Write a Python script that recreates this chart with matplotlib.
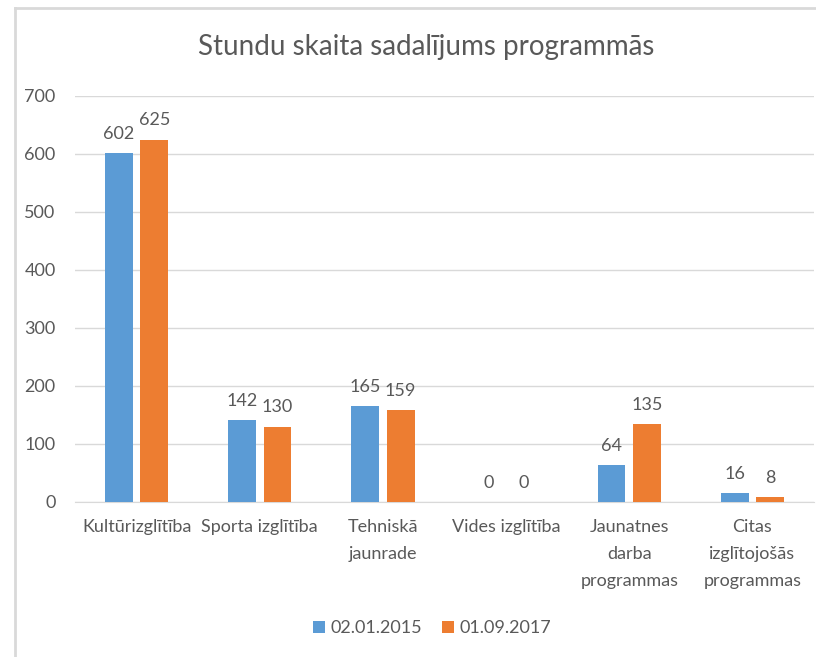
import numpy as np
import matplotlib.pyplot as plt
from matplotlib.lines import Line2D

# ====================== 数据 ======================
categories = ["Kultūrizglītība", "Sporta izglītība", "Tehniskā\njaunrade",
              "Vides izglītība", "Jaunatnes\ndarba\nprogrammas",
              "Citas\nizglītojošās\nprogrammas"]
series_names = ["02.01.2015", "01.09.2017"]
values_2015 = [602, 142, 165, 0, 64, 16]
values_2017 = [625, 130, 159, 0, 135, 8]
y_ticks = [0, 100, 200, 300, 400, 500, 600, 700]

BLUE = "#5B9BD5"
ORANGE = "#ED7D31"
TEXT = "#595959"
GRID = "#D9D9D9"

plt.rcParams['font.family'] = ['Lato', 'DejaVu Sans']

fig = plt.figure(figsize=(8.16, 6.57), dpi=100)
ax = fig.add_axes([75 / 816, 1 - 502 / 657, 739 / 816, 406 / 657])

x = np.arange(len(categories))
w = 0.227
off = 0.144
b1 = ax.bar(x - off, values_2015, w, color=BLUE, label=series_names[0], zorder=3)
b2 = ax.bar(x + off, values_2017, w, color=ORANGE, label=series_names[1], zorder=3)

for bars in (b1, b2):
    for rect in bars:
        h = rect.get_height()
        ax.annotate(f"{h:.0f}", (rect.get_x() + rect.get_width() / 2, h),
                    xytext=(0, 8), textcoords="offset points",
                    ha="center", va="bottom", fontsize=13, color=TEXT)

ax.set_xlim(-0.5, len(categories) - 0.5)
ax.set_ylim(0, 700)
ax.set_yticks(y_ticks)
ax.set_xticks(x)
ax.set_xticklabels(categories, linespacing=1.85, va="top")
ax.tick_params(axis="both", length=0, labelsize=13, colors=TEXT)
ax.tick_params(axis="y", pad=14)
ax.tick_params(axis="x", pad=12)
ax.grid(axis="y", color=GRID, linewidth=1, zorder=0)
for s in ("top", "right", "left"):
    ax.spines[s].set_visible(False)
ax.spines["bottom"].set_color(GRID)

fig.text(426 / 816, 1 - 47 / 657, "Stundu skaita sadalījums programmās",
         ha="center", va="center", fontsize=20, color=TEXT)

fig.legend(handles=[b1, b2], labels=series_names, loc="center",
           bbox_to_anchor=(432 / 816, 1 - 628 / 657), ncol=2, frameon=False,
           fontsize=13, handlelength=0.65, handleheight=0.65, handletextpad=0.3,
           columnspacing=1.1, labelcolor=TEXT)

# chart border
fig.add_artist(Line2D([15 / 816, 15 / 816], [0, 1 - 8 / 657], transform=fig.transFigure,
                      color=GRID, linewidth=2))
fig.add_artist(Line2D([15 / 816, 1], [1 - 8 / 657, 1 - 8 / 657], transform=fig.transFigure,
                      color=GRID, linewidth=2))

fig.savefig("out.png", dpi=100)
